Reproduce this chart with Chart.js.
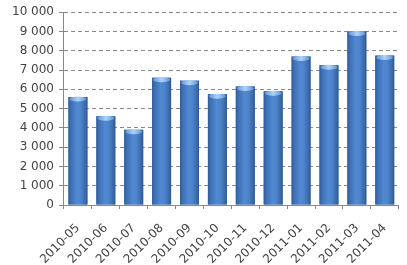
<!DOCTYPE html>
<html>
<head>
<meta charset="utf-8">
<script src="https://cdn.jsdelivr.net/npm/chart.js@4/dist/chart.umd.min.js"></script>
<style>
html,body{margin:0;padding:0;background:#fff;}
#wrap{width:407px;height:265px;position:relative;}
</style>
</head>
<body>
<div id="wrap"><canvas id="c"></canvas></div>
<script>
const categories = ["2010-05","2010-06","2010-07","2010-08","2010-09","2010-10","2010-11","2010-12","2011-01","2011-02","2011-03","2011-04"];
const values = [5600, 4600, 3900, 6600, 6450, 5750, 6150, 5900, 7700, 7250, 9000, 7750];
const yTicks = [0,1000,2000,3000,4000,5000,6000,7000,8000,9000,10000];

function fmt(v){ return String(v).replace(/\B(?=(\d{3})+(?!\d))/g, ' '); }

const cylinder = {
  id: 'cylinder',
  afterDatasetDraw(chart, args) {
    const ctx = chart.ctx;
    args.meta.data.forEach(el => {
      const p = el.getProps(['x','y','base','width'], true);
      const l = p.x - p.width/2, r = p.x + p.width/2;
      ctx.save();
      const g = ctx.createLinearGradient(l, 0, r, 0);
      g.addColorStop(0, '#2f5b96');
      g.addColorStop(0.12, '#3d6eb2');
      g.addColorStop(0.45, '#5189d2');
      g.addColorStop(0.65, '#4d84cc');
      g.addColorStop(0.9, '#3a69a8');
      g.addColorStop(1, '#2b5590');
      ctx.fillStyle = g;
      ctx.fillRect(l, p.y, p.width, p.base - p.y);
      const g2 = ctx.createLinearGradient(l, 0, r, 0);
      g2.addColorStop(0, 'rgba(120,170,230,0.6)');
      g2.addColorStop(0.5, 'rgba(180,215,252,0.95)');
      g2.addColorStop(1, 'rgba(120,170,230,0.6)');
      ctx.fillStyle = g2;
      ctx.beginPath();
      ctx.ellipse(p.x, p.y + 2, p.width/2 - 1, 2.5, 0, 0, Math.PI*2);
      ctx.fill();
      ctx.restore();
    });
  }
};

new Chart(document.getElementById('c'), {
  type: 'bar',
  data: {
    labels: categories,
    datasets: [{
      data: values,
      backgroundColor: '#4a7ebb',
      borderWidth: 0,
      barPercentage: 0.68,
      categoryPercentage: 1
    }]
  },
  options: {
    responsive: true,
    maintainAspectRatio: false,
    animation: false,
    devicePixelRatio: 1,
    layout: { padding: { top: 9, right: 2, left: 7, bottom: 0 } },
    plugins: { legend: { display: false }, tooltip: { enabled: false } },
    scales: {
      x: {
        offset: true,
        afterFit(scale){ scale.height = 60; },
        grid: { display: true, drawOnChartArea: false, drawTicks: true, tickLength: 4, color: '#888', offset: true },
        border: { color: '#888' },
        ticks: {
          color: '#444',
          font: { family: 'DejaVu Sans', size: 12 },
          minRotation: 45, maxRotation: 45, padding: 12,
          autoSkip: false
        }
      },
      y: {
        min: 0, max: 10000,
        afterBuildTicks(scale){ scale.ticks = yTicks.map(v => ({value: v})); },
        grid: { color: '#8a8a8a', tickLength: 5, drawTicks: true },
        border: { color: '#888', dash: [4,3] },
        ticks: {
          color: '#444',
          font: { family: 'DejaVu Sans', size: 12 },
          padding: 5,
          callback: v => fmt(v)
        }
      }
    }
  },
  plugins: [cylinder]
});
</script>
</body>
</html>
